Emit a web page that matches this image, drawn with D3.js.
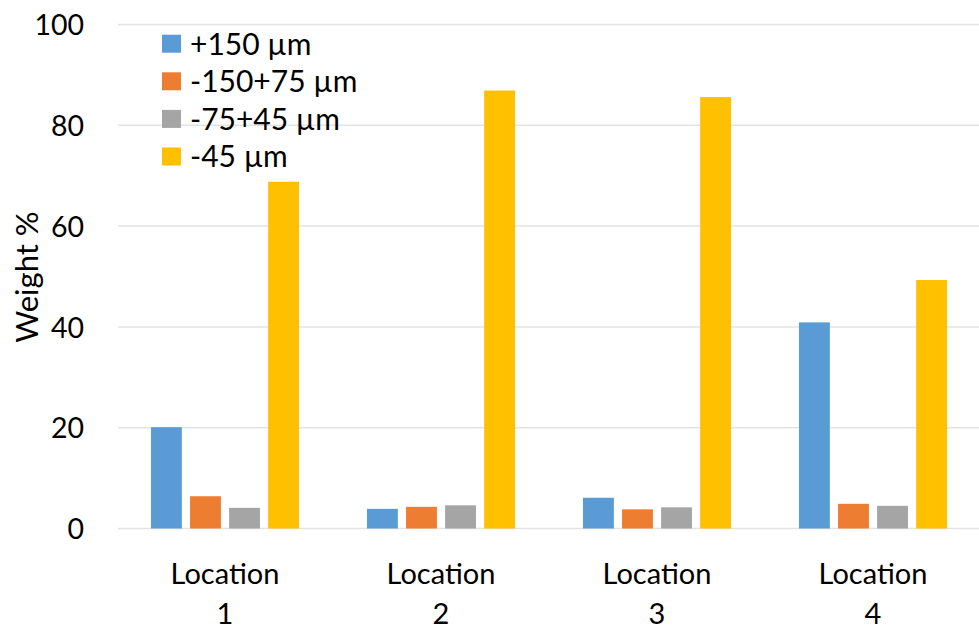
<!DOCTYPE html>
<html>
<head>
<meta charset="utf-8">
<script src="https://cdn.jsdelivr.net/npm/d3@7"></script>
<style>
  html, body { margin: 0; padding: 0; background: #fff; }
  svg { display: block; font-family: Lato, "Open Sans", sans-serif; }
</style>
</head>
<body>
<svg id="chart" width="979" height="629"></svg>
<script>
// Particle size distribution by sampling location
const locations = ["Location 1", "Location 2", "Location 3", "Location 4"];
const seriesNames = ["+150 µm", "-150+75 µm", "-75+45 µm", "-45 µm"];
const seriesColors = ["#5B9BD5", "#ED7D31", "#A5A5A5", "#FFC000"];
const plus150 = [20.1, 3.9, 6.1, 40.9];
const minus150plus75 = [6.4, 4.3, 3.8, 4.9];
const minus75plus45 = [4.1, 4.6, 4.2, 4.5];
const minus45 = [68.8, 86.9, 85.6, 49.3];
const yTicks = [0, 20, 40, 60, 80, 100];

const seriesValues = [plus150, minus150plus75, minus75plus45, minus45];

const svg = d3.select("#chart");

const x0 = d3.scaleBand().domain(locations).range([117, 981]).padding(0);
const x1 = d3.scaleBand().domain(seriesNames).range([0, x0.bandwidth()])
  .paddingInner(0.21).paddingOuter(0.87);
const y = d3.scaleLinear().domain([0, 100]).range([528.5, 24.5]);

// Horizontal gridlines
svg.append("g").selectAll("line").data(yTicks).join("line")
  .attr("x1", 118).attr("x2", 979)
  .attr("y1", d => y(d)).attr("y2", d => y(d))
  .attr("stroke", "#e3e3e3").attr("stroke-width", 1.5);

// Y axis tick labels
const yAxis = d3.axisLeft(y).tickValues(yTicks).tickSize(0).tickPadding(0);
const yG = svg.append("g").attr("transform", "translate(84,0)").call(yAxis);
yG.select(".domain").remove();
yG.selectAll("text")
  .attr("font-family", "Lato, sans-serif")
  .attr("font-size", 28.5).attr("fill", "#000").attr("dy", "0.36em");

// Bars
const groups = svg.append("g").selectAll("g").data(locations).join("g")
  .attr("transform", d => `translate(${x0(d)},0)`);
groups.selectAll("rect")
  .data((loc, li) => seriesNames.map((s, si) => ({ s, si, v: seriesValues[si][li] })))
  .join("rect")
  .attr("x", d => x1(d.s))
  .attr("width", x1.bandwidth())
  .attr("y", d => y(d.v))
  .attr("height", d => y(0) - y(d.v))
  .attr("fill", d => seriesColors[d.si]);

// Category labels on two lines
const xl = svg.append("g").selectAll("text").data(locations).join("text")
  .attr("x", d => x0(d) + x0.bandwidth() / 2)
  .attr("text-anchor", "middle")
  .attr("font-size", 29).attr("fill", "#000");
xl.append("tspan").attr("x", d => x0(d) + x0.bandwidth() / 2).attr("y", 584)
  .text(d => d.split(" ")[0]);
xl.append("tspan").attr("x", d => x0(d) + x0.bandwidth() / 2).attr("y", 624)
  .text(d => d.split(" ")[1]);

// Y axis title
svg.append("text")
  .attr("transform", "translate(38,277) rotate(-90)")
  .attr("text-anchor", "middle")
  .attr("font-size", 31).attr("fill", "#000")
  .text("Weight %");

// Legend
const legend = svg.append("g").selectAll("g").data(seriesNames).join("g")
  .attr("transform", (d, i) => `translate(162,${43.7 + i * 37.6})`);
legend.append("rect")
  .attr("x", 0).attr("y", -9).attr("width", 19).attr("height", 18)
  .attr("fill", (d, i) => seriesColors[i]);
legend.append("text")
  .attr("x", 28).attr("y", 0).attr("dy", "0.36em")
  .attr("font-size", 30).attr("fill", "#000")
  .text(d => d);
</script>
</body>
</html>
